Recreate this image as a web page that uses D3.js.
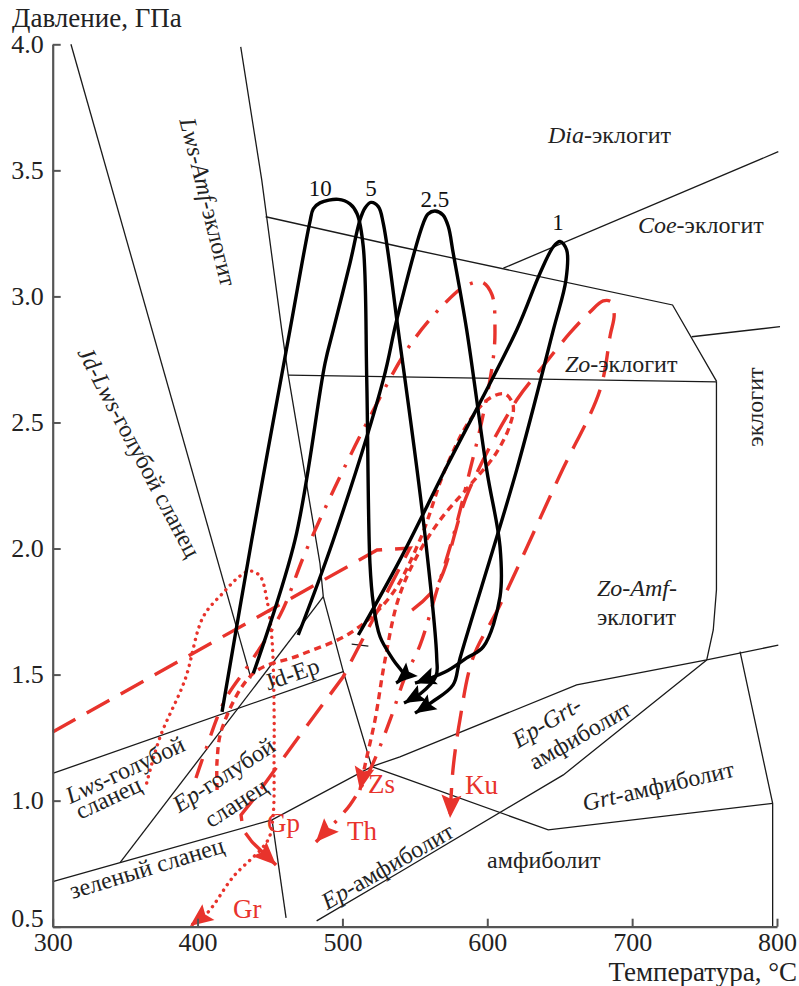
<!DOCTYPE html>
<html>
<head>
<meta charset="utf-8">
<script src="https://cdn.jsdelivr.net/npm/d3@7"></script>
<style>
  body { margin: 0; background: #fff; }
  svg { display: block; }
  text { font-family: "Liberation Serif", "Times New Roman", serif; }
</style>
</head>
<body>
<svg id="chart"></svg>
<script>
// axis ticks
let tempTicks = [300, 400, 500, 600, 700, 800];
let pressTicks = [0.5, 1.0, 1.5, 2.0, 2.5, 3.0, 3.5, 4.0];

// facies boundaries [T, P]
let boundaries = [
  [[312.6, 4.0], [436.9, 1.485]],
  [[429.8, 3.99], [444.3, 3.462], [458.1, 2.867], [462.6, 2.688], [484.5, 1.941], [486.8, 1.809], [500.6, 1.512], [520.2, 1.135]],
  [[447.0, 3.316], [539.7, 3.197], [727.9, 2.966], [758.4, 2.662]],
  [[611.1, 3.112], [800.9, 3.574]],
  [[741.1, 2.84], [802.1, 2.88]],
  [[462.6, 2.688], [758.4, 2.661]],
  [[758.2, 2.661], [758.2, 1.836], [756.0, 1.677], [751.5, 1.558]],
  [[300, 1.108], [500.6, 1.512]],
  [[346.5, 0.754], [486.8, 1.809]],
  [[300, 0.679], [346.5, 0.754], [451.4, 0.924], [520.2, 1.135], [539.7, 1.174], [661.7, 1.459], [751.5, 1.558], [800.9, 1.617]],
  [[451.4, 0.924], [461.1, 0.535]],
  [[520.2, 1.135], [539.7, 1.095], [642.1, 0.884], [797.0, 0.989]],
  [[774.5, 1.591], [797.0, 0.989], [797.0, 0.5]],
  [[482.2, 0.523], [539.7, 0.717], [652.5, 1.102], [751.5, 1.558]],
  [[506.4, 1.621], [517.9, 1.613]]
];

// model P-T paths (black)
let path10 = [[416.9, 1.352], [437.4, 2.034], [463.8, 2.867], [477.6, 3.297], [479.9, 3.347], [484.5, 3.371], [497.2, 3.385], [505.2, 3.367], [510.1, 3.328], [514.4, 3.197], [516.8, 2.669], [519.0, 1.941], [521.3, 1.783], [526.0, 1.65], [535.1, 1.558], [542.5, 1.494], [537.0, 1.467]];
let path5 = [[438.5, 1.505], [467.3, 2.034], [488.0, 2.735], [493.7, 2.867], [505.2, 3.131], [512.1, 3.303], [515.6, 3.351], [519.7, 3.373], [524.8, 3.356], [528.2, 3.29], [538.5, 2.867], [555.8, 2.113], [565.1, 1.566], [564.6, 1.494], [553.6, 1.423], [542.5, 1.387]];
let path25 = [[469.5, 1.657], [493.7, 2.034], [528.2, 2.669], [537.5, 2.907], [555.8, 3.29], [559.1, 3.327], [563.9, 3.339], [569.4, 3.323], [573.1, 3.277], [576.5, 3.171], [585.8, 2.867], [599.6, 2.312], [608.8, 2.007], [608.8, 1.809], [597.3, 1.611], [585.8, 1.566], [570.8, 1.51], [550.1, 1.466]];
let path1 = [[511.0, 1.657], [539.7, 1.955], [572.0, 2.325], [620.3, 2.867], [636.4, 3.092], [645.6, 3.197], [650.2, 3.218], [654.8, 3.184], [654.3, 3.065], [645.6, 2.867], [620.3, 2.312], [581.2, 1.565], [576.4, 1.459], [561.8, 1.391], [550.1, 1.347]];
let pathLabels = ["10", "5", "2.5", "1"];

// natural P-T paths (red)
let pathGr = [[364.9, 1.07], [374.1, 1.252], [391.3, 1.479], [403.8, 1.728], [417.6, 1.824], [429.3, 1.891], [436.2, 1.911], [443.1, 1.891], [447.9, 1.796], [451.4, 1.637], [452.8, 1.371], [452.8, 1.161], [452.1, 0.939], [448.6, 0.844], [424.5, 0.697], [406.6, 0.554], [394.8, 0.503]];
let pathGp = [[300, 1.272], [523.9, 1.994], [546.7, 2.002], [500.4, 1.49], [470.7, 1.26], [438.3, 1.003], [430.0, 0.943], [431.4, 0.884], [437.6, 0.836], [454.2, 0.745]];
let pathKu = [[548.1, 1.756], [565.4, 1.855], [586.8, 2.224], [620.3, 2.589], [636.4, 2.708], [657.1, 2.855], [670.9, 2.938], [680.0, 2.982], [685.6, 2.978], [687.6, 2.926], [684.9, 2.847], [677.8, 2.629], [650.2, 2.292], [608.8, 1.776], [590.1, 1.566], [581.1, 1.32], [576.3, 1.122], [574.3, 0.931]];
let pathTh = [[398.9, 1.09], [405.1, 1.193], [418.9, 1.399], [436.2, 1.546], [457.0, 1.736], [474.2, 1.982], [494.9, 2.244], [520.4, 2.538], [546.7, 2.807], [570.9, 2.974], [584.7, 3.041], [596.4, 3.057], [603.3, 3.006], [605.3, 2.867], [604.0, 2.748], [596.4, 2.51], [588.1, 2.312], [577.7, 2.074], [565.3, 1.836], [553.6, 1.617], [543.2, 1.49], [532.9, 1.32], [519.0, 1.122], [505.2, 0.983], [481.7, 0.836]];
let pathZs = [[413.5, 1.042], [413.5, 1.161], [417.0, 1.288], [438.5, 1.505], [470.9, 1.578], [505.4, 1.665], [532.8, 1.808], [553.5, 2.034], [570.8, 2.312], [588.1, 2.51], [601.9, 2.597], [612.2, 2.613], [617.8, 2.569], [615.7, 2.49], [605.3, 2.371], [588.1, 2.252], [567.4, 2.113], [550.1, 1.955], [538.4, 1.796], [529.4, 1.558], [522.5, 1.32], [515.6, 1.141], [512.1, 1.042]];

let width = 799, height = 986;
let red = "#e8332c";

let svg = d3.select("#chart").attr("width", width).attr("height", height);

let xScale = d3.scaleLinear().domain([300, 800]).range([52.7, 777]);
let yScale = d3.scaleLinear().domain([0.5, 4.0]).range([926.7, 44.3]);

let line = d3.line()
  .x((d) => xScale(d[0]))
  .y((d) => yScale(d[1]));
let smooth = d3.line()
  .x((d) => xScale(d[0]))
  .y((d) => yScale(d[1]))
  .curve(d3.curveCatmullRom.alpha(0.5));

// facies boundaries
svg.append("g")
  .selectAll("path")
  .data(boundaries)
  .enter()
  .append("path")
  .attr("d", line)
  .attr("fill", "none")
  .attr("stroke", "#1a1a1a")
  .attr("stroke-width", 1.3);

// arrow head at the end of a path
let arrowHead = (g, pts, color, len, half) => {
  let a = pts[pts.length - 2], b = pts[pts.length - 1];
  let x1 = xScale(a[0]), y1 = yScale(a[1]);
  let x2 = xScale(b[0]), y2 = yScale(b[1]);
  let dx = x2 - x1, dy = y2 - y1;
  let n = Math.sqrt(dx * dx + dy * dy);
  dx /= n; dy /= n;
  let bx = x2 - dx * len, by = y2 - dy * len;
  let p = [[x2, y2], [bx - dy * half, by + dx * half], [bx + dx * 4, by + dy * 4], [bx + dy * half, by - dx * half]];
  g.append("polygon")
    .attr("points", p.map((q) => q.join(",")).join(" "))
    .attr("fill", color);
};

// red natural paths
let redPaths = [
  { pts: pathGp, dash: "26,13", curve: line },
  { pts: pathKu, dash: "26,13", curve: smooth },
  { pts: pathTh, dash: "20,11,3,11", curve: smooth },
  { pts: pathZs, dash: "7,5", curve: smooth },
  { pts: pathGr, dash: "0.1,6.5", curve: smooth }
];
let redG = svg.append("g");
redPaths.forEach((r) => {
  redG.append("path")
    .attr("d", r.curve(r.pts))
    .attr("fill", "none")
    .attr("stroke", red)
    .attr("stroke-width", 3.4)
    .attr("stroke-linecap", r.dash == "0.1,6.5" ? "round" : "butt")
    .attr("stroke-dasharray", r.dash);
  arrowHead(redG, r.pts, red, 23, 10);
});

// black model paths
let blackG = svg.append("g");
[path10, path5, path25, path1].forEach((p) => {
  blackG.append("path")
    .attr("d", smooth(p))
    .attr("fill", "none")
    .attr("stroke", "#000")
    .attr("stroke-width", 3.4);
  arrowHead(blackG, p, "#000", 21, 9);
});

// axes
let xAxis = d3.axisBottom(xScale).tickValues(tempTicks).tickSize(-8).tickSizeOuter(0).tickPadding(6).tickFormat(d3.format("d"));
let yAxis = d3.axisLeft(yScale).tickValues(pressTicks).tickSize(-8).tickSizeOuter(0).tickPadding(9).tickFormat(d3.format(".1f"));

let gx = svg.append("g").attr("transform", "translate(0," + yScale(0.5) + ")").call(xAxis);
let gy = svg.append("g").attr("transform", "translate(" + xScale(300) + ",0)").call(yAxis);
[gx, gy].forEach((g) => {
  g.select(".domain").attr("stroke", "#555").attr("stroke-width", 2.2);
  g.selectAll(".tick line").attr("stroke", "#555").attr("stroke-width", 2);
  g.selectAll(".tick text")
    .attr("fill", "#222")
    .style("font-size", "26px")
    .style("font-family", "Liberation Serif");
});
// the lowest pressure label sits above the axis line
gy.selectAll(".tick text").filter((d) => d == 0.5).attr("dy", "0.0em");

svg.append("text").attr("x", 12).attr("y", 27).style("font-size", "27px").attr("fill", "#222").text("Давление, ГПа");
svg.append("text").attr("x", 797).attr("y", 981).attr("text-anchor", "end").style("font-size", "27px").attr("fill", "#222").text("Температура, °С");

// facies labels: [parts, T, P, angle, anchor]
let faciesLabels = [
  [[["Dia", 1], ["-эклогит", 0]], 641.9, 3.609, 0, "start"],
  [[["Coe", 1], ["-эклогит", 0]], 704.0, 3.252, 0, "start"],
  [[["Zo", 1], ["-эклогит", 0]], 653.6, 2.70, 0, "start"],
  [[["Zo-Amf-", 1]], 675.7, 1.812, 0, "start"],
  [[["эклогит", 0]], 675.7, 1.697, 0, "start"],
  [[["эклогит", 0]], 784.8, 2.561, -90, "middle"],
  [[["Lws-Amf-", 1], ["эклогит", 0]], 407.2, 3.375, 76, "middle"],
  [[["Jd-Lws-", 1], ["голубой сланец", 0]], 359.6, 2.383, 62, "middle"],
  [[["Jd-Ep", 0]], 465.2, 1.503, -19, "middle"],
  [[["Lws", 1], ["-голубой", 0]], 350.0, 1.122, -25, "middle"],
  [[["сланец", 0]], 338.5, 1.011, -25, "middle"],
  [[["Ep", 1], ["-голубой", 0]], 418.0, 1.102, -33, "middle"],
  [[["сланец", 0]], 426.5, 0.991, -33, "middle"],
  [[["зеленый сланец", 0]], 365.0, 0.733, -17, "middle"],
  [[["Ep", 1], ["-амфиболит", 0]], 531.0, 0.74, -30, "middle"],
  [[["Ep-Grt-", 1]], 641.0, 1.312, -31, "middle"],
  [[["амфиболит", 0]], 664.0, 1.26, -30, "middle"],
  [[["Grt", 1], ["-амфиболит", 0]], 718.0, 1.058, -13, "middle"],
  [[["амфиболит", 0]], 639.0, 0.764, 0, "middle"]
];
let labG = svg.append("g").attr("fill", "#222").style("font-size", "24px");
faciesLabels.forEach((l) => {
  let px = xScale(l[1]), py = yScale(l[2]);
  let t = labG.append("text")
    .attr("text-anchor", l[4])
    .attr("dominant-baseline", l[4] == "middle" ? "central" : "auto")
    .attr("transform", "translate(" + px + "," + py + ") rotate(" + l[3] + ")");
  l[0].forEach((s) => {
    t.append("tspan").style("font-style", s[1] ? "italic" : "normal").text(s[0]);
  });
});

// path numbers above peaks
let peaks = [[497.2, 3.385, -18, -3], [519.7, 3.373, 0, -6], [563.9, 3.339, 0, -4], [650.2, 3.218, -2, -11]];
peaks.forEach((p, i) => {
  svg.append("text")
    .attr("x", xScale(p[0]) + p[2])
    .attr("y", yScale(p[1]) + p[3])
    .attr("text-anchor", "middle")
    .style("font-size", "23px")
    .attr("fill", "#111")
    .text(pathLabels[i]);
});

// red locality labels
let redLabels = [["Zs", 512.1, 1.042], ["Th", 481.7, 0.836], ["Ku", 574.3, 0.931], ["Gp", 454.2, 0.745], ["Gr", 394.8, 0.503]];
let redOffsets = [[8, 3], [31, -2], [15, -24], [-9, -33], [43, -8]];
redLabels.forEach((r, i) => {
  svg.append("text")
    .attr("x", xScale(r[1]) + redOffsets[i][0])
    .attr("y", yScale(r[2]) + redOffsets[i][1])
    .style("font-size", "27px")
    .attr("fill", red)
    .text(r[0]);
});
</script>
</body>
</html>
